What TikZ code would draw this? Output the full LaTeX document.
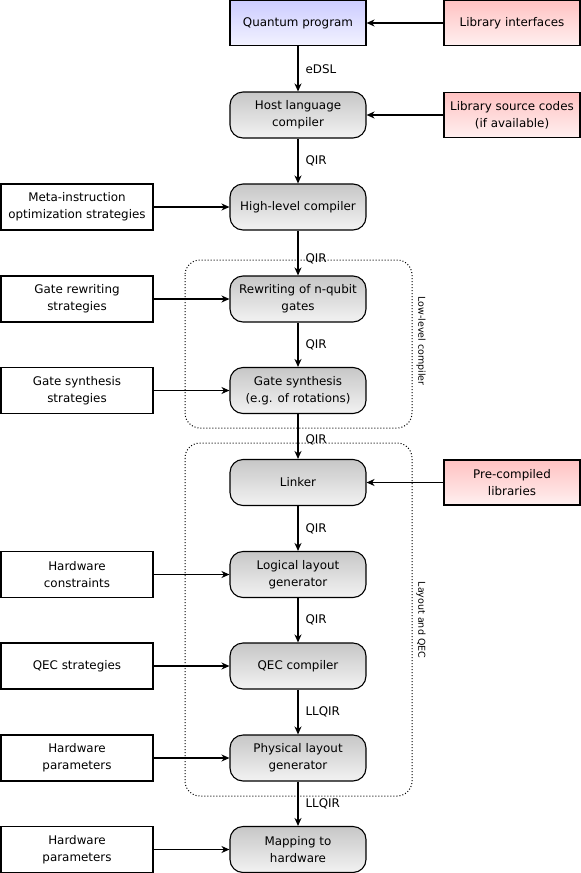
\documentclass[tikz,border=0pt]{standalone}
\usepackage{fontspec}
\setmainfont{DejaVu Sans}
\usetikzlibrary{arrows.meta}
\begin{document}
\begin{tikzpicture}[x=1pt,y=-1pt,
  every node/.style={font=\fontsize{11.9}{16.8}\selectfont, align=center, inner sep=0pt},
  plainbox/.style={draw, line width=1.1pt, fill=white, minimum width=152pt, minimum height=46pt},
  procbox/.style={draw, line width=1.1pt, rounded corners=13pt, top color=black!22, bottom color=black!5, minimum width=136pt, minimum height=46pt},
  libbox/.style={draw, line width=1.1pt, top color=red!24, bottom color=red!6, minimum width=136pt, minimum height=45pt},
  qbox/.style={draw, line width=1.1pt, top color=blue!20, bottom color=blue!5, minimum width=136pt, minimum height=45pt},
  arr/.style={draw, line width=1.2pt, -{Stealth[length=8pt,width=7pt,inset=2.5pt]}},
  lbl/.style={anchor=west},
  grp/.style={draw, line width=1pt, dotted, rounded corners=15pt},
  grplbl/.style={rotate=-90, font=\fontsize{9.5}{11}\selectfont}
]
\useasboundingbox (0,0) rectangle (581,873);
% groups
\draw[grp] (185,260) rectangle (412,428);
\draw[grp] (185,443) rectangle (412,796);
\node[grplbl] (glow) at (421,341) {Low-level compiler};
\node[grplbl] (glay) at (421,620) {Layout and QEC};
% main column
\node[qbox] (qp) at (298,23) {Quantum program};
\node[procbox] (host) at (298,115) {Host language\\compiler};
\node[procbox] (high) at (298,207) {High-level compiler};
\node[procbox] (rew) at (298,299) {Rewriting of n-qubit\\gates};
\node[procbox] (syn) at (298,390.5) {Gate synthesis\\(e.g. of rotations)};
\node[procbox] (link) at (298,482.5) {Linker};
\node[procbox] (log) at (298,574.5) {Logical layout\\generator};
\node[procbox] (qec) at (298,666) {QEC compiler};
\node[procbox] (phys) at (298,758) {Physical layout\\generator};
\node[procbox] (map) at (298,849.5) {Mapping to\\hardware};
% right column
\node[libbox] (libi) at (512,23) {Library interfaces};
\node[libbox] (libs) at (512,115) {Library source codes\\(if available)};
\node[libbox] (pre) at (512,482.5) {Pre-compiled\\libraries};
% left column
\node[plainbox] (meta) at (77,207) {Meta-instruction\\optimization strategies};
\node[plainbox] (grs) at (77,299) {Gate rewriting\\strategies};
\node[plainbox] (gss) at (77,390.5) {Gate synthesis\\strategies};
\node[plainbox] (hc) at (77,574.5) {Hardware\\constraints};
\node[plainbox] (qecs) at (77,666) {QEC strategies};
\node[plainbox] (hp1) at (77,758) {Hardware\\parameters};
\node[plainbox] (hp2) at (77,849.5) {Hardware\\parameters};
% vertical flow
\draw[arr] (qp) -- node[lbl,xshift=7pt] {eDSL} (host);
\draw[arr] (host) -- node[lbl,xshift=7pt] {QIR} (high);
\draw[arr] (high) -- node[lbl,xshift=7pt,yshift=-6pt] {QIR} (rew);
\draw[arr] (rew) -- node[lbl,xshift=7pt] {QIR} (syn);
\draw[arr] (syn) -- node[lbl,xshift=7pt,yshift=-3pt] {QIR} (link);
\draw[arr] (link) -- node[lbl,xshift=7pt] {QIR} (log);
\draw[arr] (log) -- node[lbl,xshift=7pt] {QIR} (qec);
\draw[arr] (qec) -- node[lbl,xshift=7pt] {LLQIR} (phys);
\draw[arr] (phys) -- node[lbl,xshift=7pt] {LLQIR} (map);
% side inputs
\draw[arr] (libi) -- (qp);
\draw[arr] (libs) -- (host);
\draw[arr] (pre) -- (link);
\draw[arr] (meta) -- (high);
\draw[arr] (grs) -- (rew);
\draw[arr] (gss) -- (syn);
\draw[arr] (hc) -- (log);
\draw[arr] (qecs) -- (qec);
\draw[arr] (hp1) -- (phys);
\draw[arr] (hp2) -- (map);
\end{tikzpicture}
\end{document}
